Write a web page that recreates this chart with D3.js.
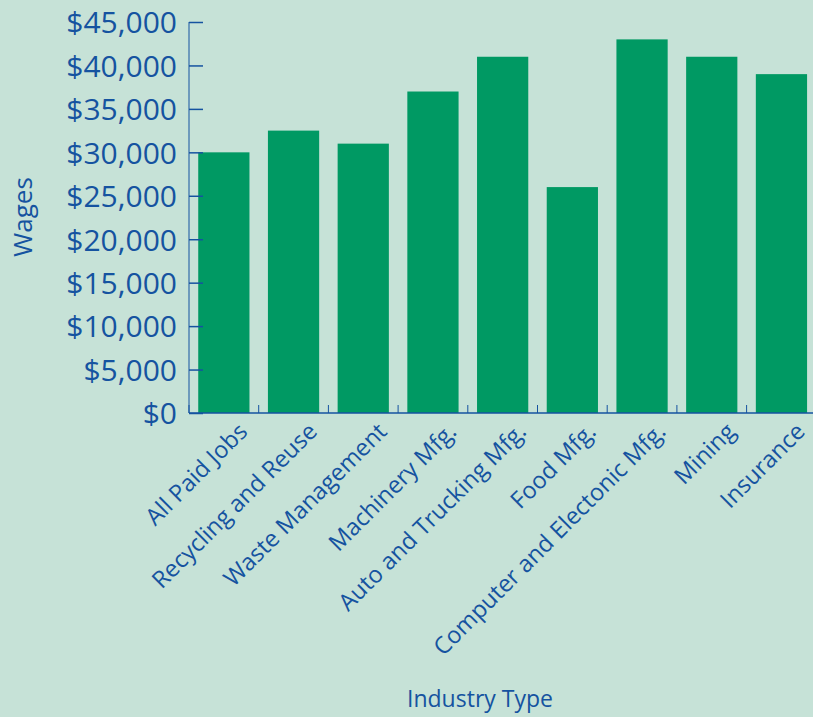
<!DOCTYPE html>
<html>
<head>
<meta charset="utf-8">
<script src="https://cdn.jsdelivr.net/npm/d3@7"></script>
<style>
  body { margin: 0; background: #c6e2d7; }
  svg { display: block; font-family: "Open Sans", Lato, sans-serif; }
  .axis path, .axis line { stroke: #1553a0; }
  .axis text { fill: #1553a0; }
</style>
</head>
<body>
<svg id="chart"></svg>
<script>
// categorias e salarios
var categorias = ['All Paid Jobs', 'Recycling and Reuse', 'Waste Management', 'Machinery Mfg.',
    'Auto and Trucking Mfg.', 'Food Mfg.', 'Computer and Electonic Mfg.', 'Mining', 'Insurance']
var salarios = [30000, 32500, 31000, 37000, 41000, 26000, 43000, 41000, 39000]
var ticksY = [0, 5000, 10000, 15000, 20000, 25000, 30000, 35000, 40000, 45000]

var W = 813, H = 717
var margin = { top: 22, left: 189, bottom: 304 }
var plotW = 9 * 69.7
var plotH = H - margin.top - margin.bottom

var svg = d3.select('#chart').attr('width', W).attr('height', H)
svg.append('rect').attr('width', W).attr('height', H).attr('fill', '#c6e2d7')

var g = svg.append('g').attr('transform', 'translate(' + margin.left + ',' + margin.top + ')')

var x = d3.scaleBand().domain(categorias).range([0, plotW]).paddingInner(0.265).paddingOuter(0.1325)
var y = d3.scaleLinear().domain([0, 45000]).range([plotH, 0])

// barras
g.selectAll('.bar')
    .data(categorias)
    .enter()
    .append('rect')
    .attr('class', 'bar')
    .attr('x', function (d) { return x(d) })
    .attr('width', x.bandwidth())
    .attr('y', function (d, i) { return y(salarios[i]) })
    .attr('height', function (d, i) { return plotH - y(salarios[i]) })
    .attr('fill', '#009963')

// eixo y
var yAxis = d3.axisRight(y)
    .tickValues(ticksY)
    .tickSize(14)
    .tickFormat(function (d) { return '$' + d3.format(',')(d) })
var gy = g.append('g').attr('class', 'axis').call(yAxis)
    .attr('font-family', null)
gy.select('.domain').attr('d', 'M0,' + plotH + 'V0')
gy.selectAll('line').attr('stroke-width', 1.5)
gy.selectAll('text')
    .attr('x', -12)
    .attr('dy', '0.36em')
    .attr('text-anchor', 'end')
    .style('font-size', '30px')

// eixo x - ticks nas divisas das categorias
var bordas = d3.range(10).map(function (i) { return i * x.step() })
var gx = g.append('g').attr('class', 'axis').attr('transform', 'translate(0,' + plotH + ')')
gx.append('line').attr('x1', 0).attr('x2', plotW).attr('stroke-width', 1.5)
gx.selectAll('.tk')
    .data(bordas)
    .enter()
    .append('line')
    .attr('class', 'tk')
    .attr('x1', function (d) { return d })
    .attr('x2', function (d) { return d })
    .attr('y1', 0)
    .attr('y2', -8)

gx.selectAll('.lbl')
    .data(categorias)
    .enter()
    .append('text')
    .attr('class', 'lbl')
    .attr('text-anchor', 'end')
    .attr('transform', function (d) {
        return 'translate(' + (x(d) + x.bandwidth() / 2 + 25) + ',20) rotate(-45)'
    })
    .style('font-size', '23.5px')
    .text(function (d) { return d })

// titulos
svg.append('text')
    .attr('transform', 'translate(32,217) rotate(-90)')
    .attr('text-anchor', 'middle')
    .attr('fill', '#1553a0')
    .style('font-size', '26px')
    .text('Wages')

svg.append('text')
    .attr('x', 480)
    .attr('y', 707)
    .attr('text-anchor', 'middle')
    .attr('fill', '#1553a0')
    .style('font-size', '23px')
    .text('Industry Type')
</script>
</body>
</html>
